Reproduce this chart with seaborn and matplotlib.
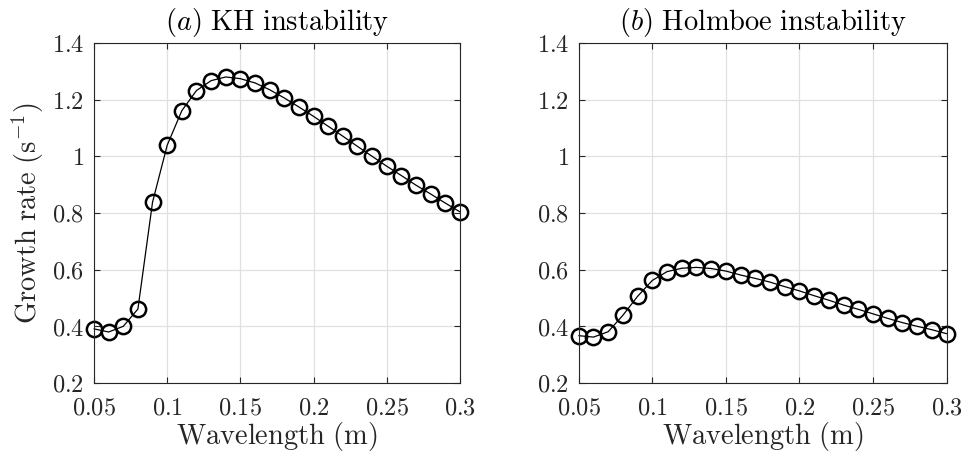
import numpy as np
import pandas as pd
import matplotlib
matplotlib.use("Agg")
import matplotlib.pyplot as plt
import seaborn as sns
from matplotlib.ticker import FixedLocator

wavelength = [0.05, 0.06, 0.07, 0.08, 0.09, 0.10, 0.11, 0.12, 0.13, 0.14, 0.15, 0.16, 0.17,
              0.18, 0.19, 0.20, 0.21, 0.22, 0.23, 0.24, 0.25, 0.26, 0.27, 0.28, 0.29, 0.30]
kh_growth = [0.391, 0.380, 0.400, 0.461, 0.838, 1.039, 1.161, 1.232, 1.267, 1.280, 1.274, 1.259, 1.235,
             1.206, 1.174, 1.141, 1.106, 1.071, 1.035, 1.000, 0.965, 0.932, 0.898, 0.867, 0.835, 0.804]
holmboe_growth = [0.367, 0.362, 0.381, 0.439, 0.506, 0.562, 0.593, 0.605, 0.608, 0.604, 0.595, 0.581, 0.569,
                  0.556, 0.540, 0.525, 0.508, 0.492, 0.475, 0.460, 0.444, 0.428, 0.413, 0.400, 0.388, 0.374]
titles = [r"$(a)\ \mathrm{KH\ instability}$", r"$(b)\ \mathrm{Holmboe\ instability}$"]
xticks = [0.05, 0.1, 0.15, 0.2, 0.25, 0.3]
xtick_labels = ["0.05", "0.1", "0.15", "0.2", "0.25", "0.3"]
yticks = [0.2, 0.4, 0.6, 0.8, 1.0, 1.2, 1.4]
ytick_labels = ["0.2", "0.4", "0.6", "0.8", "1", "1.2", "1.4"]

sns.set_theme(style="whitegrid")
plt.rcParams["font.family"] = ["DejaVu Serif"]
plt.rcParams["mathtext.fontset"] = "cm"

fig = plt.figure(figsize=(9.63, 4.62), dpi=100)
ax1 = fig.add_axes([0.0976, 0.171, 0.380, 0.736])
ax2 = fig.add_axes([0.601, 0.171, 0.382, 0.736])

fs_tick = 17.5
fs_lab = 20.5
for ax, vals, title in [(ax1, kh_growth, titles[0]), (ax2, holmboe_growth, titles[1])]:
    df = pd.DataFrame({"wavelength": wavelength, "growth": vals})
    sns.lineplot(data=df, x="wavelength", y="growth", ax=ax, color="black", linewidth=0.9,
                 marker="o", markersize=11, markerfacecolor="none", markeredgecolor="black",
                 markeredgewidth=1.8)
    ax.set_xlim(0.05, 0.3)
    ax.set_ylim(0.2, 1.4)
    ax.xaxis.set_major_locator(FixedLocator(xticks))
    ax.yaxis.set_major_locator(FixedLocator(yticks))
    ax.set_xticklabels([r"$\mathrm{%s}$" % t for t in xtick_labels], fontsize=fs_tick, color="#262626")
    ax.set_yticklabels([r"$\mathrm{%s}$" % t for t in ytick_labels], fontsize=fs_tick, color="#262626")
    ax.set_title(title, fontsize=fs_lab, color="black", pad=9)
    ax.set_xlabel(r"$\mathrm{Wavelength\ (m)}$", fontsize=fs_lab, color="#262626", labelpad=0)
    ax.set_ylabel("")
    ax.set_facecolor("white")
    ax.grid(True, color="#e0e0e0", linewidth=0.9)
    for s in ax.spines.values():
        s.set_visible(True)
        s.set_color("#262626")
        s.set_linewidth(0.8)
    ax.tick_params(axis="both", which="major", direction="in", length=4, width=0.8,
                   color="#262626", top=True, right=True, bottom=True, left=True)
    ax.tick_params(axis="x", pad=10)
    ax.tick_params(axis="y", pad=7)
    for line in ax.lines:
        line.set_clip_on(False)

ax1.set_ylabel(r"$\mathrm{Growth\ rate\ (s^{-1})}$", fontsize=fs_lab, color="#262626", labelpad=4)

fig.savefig("out.png", dpi=100, facecolor="white")
